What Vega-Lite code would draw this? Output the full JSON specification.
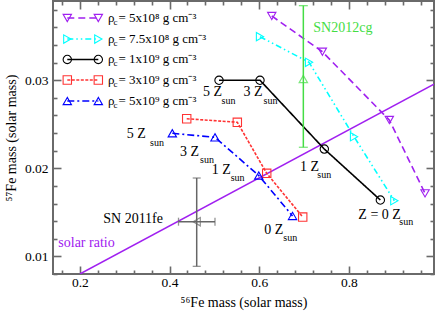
{
  "$schema": "https://vega.github.io/schema/vega-lite/v6.json",
  "width": 381,
  "height": 273,
  "autosize": "none",
  "padding": {"left": 53, "top": 1, "right": 2, "bottom": 37},
  "background": "white",
  "config": {
    "view": {"stroke": "#6a6a6a", "strokeWidth": 2},
    "font": "Liberation Serif"
  },
  "resolve": {"axis": {"x": "independent", "y": "independent"}},
  "layer": [
    {
      "data": {"values": [{"x": 0.2, "y": 0.008}, {"x": 0.99, "y": 0.02955}]},
      "mark": {"type": "line", "color": "#A020F0", "strokeWidth": 1.5, "clip": true},
      "encoding": {
        "x": {"field": "x", "type": "quantitative",
          "scale": {"domain": [0.14, 0.99], "nice": false, "zero": false},
          "axis": {"orient": "bottom", "title": "⁵⁶Fe mass (solar mass)",
            "values": [0.16,0.2,0.24,0.28,0.32,0.36,0.4,0.44,0.48,0.52,0.56,0.6,0.64,0.68,0.72,0.76,0.8,0.84,0.88,0.92,0.96],
            "labelExpr": "indexof([0.2,0.4,0.6,0.8], datum.value) >= 0 ? format(datum.value, '.1f') : ''",
            "tickSize": {"condition": {"test": "indexof([0.2,0.4,0.6,0.8], datum.value) >= 0", "value": -8}, "value": -4},
            "tickColor": "#6a6a6a", "tickWidth": 1.6, "domain": false, "grid": false,
            "labelOverlap": false, "labelFlush": false, "labelPadding": 9,
            "labelFontSize": 13.5, "labelColor": "#000000",
            "titleFontSize": 14, "titleFontWeight": "normal", "titleColor": "#000000", "titlePadding": 3}},
        "y": {"field": "y", "type": "quantitative",
          "scale": {"domain": [0.008, 0.039], "nice": false, "zero": false},
          "axis": {"orient": "left", "title": "⁵⁷Fe mass (solar mass)",
            "values": [0.008,0.01,0.012,0.014,0.016,0.018,0.02,0.022,0.024,0.026,0.028,0.03,0.032,0.034,0.036,0.038],
            "labelExpr": "indexof([0.01,0.02,0.03], datum.value) >= 0 ? format(datum.value, '.2f') : ''",
            "tickSize": {"condition": {"test": "indexof([0.01,0.02,0.03], datum.value) >= 0", "value": -8}, "value": -4},
            "tickColor": "#6a6a6a", "tickWidth": 1.6, "domain": false, "grid": false,
            "labelOverlap": false, "labelFlush": false, "labelPadding": 13,
            "labelFontSize": 13.5, "labelColor": "#000000",
            "titleFontSize": 14, "titleFontWeight": "normal", "titleColor": "#000000", "titlePadding": 6}}
      }
    },
    {
      "data": {"name": "series", "values": [
        {"s": "a", "g": "data", "x": 0.628, "y": 0.0373},
        {"s": "a", "g": "data", "x": 0.7409, "y": 0.03324},
        {"s": "a", "g": "data", "x": 0.8903, "y": 0.02549},
        {"s": "a", "g": "data", "x": 0.970, "y": 0.01716},
        {"s": "b", "g": "data", "x": 0.6018, "y": 0.03495},
        {"s": "b", "g": "data", "x": 0.7112, "y": 0.03204},
        {"s": "b", "g": "data", "x": 0.8116, "y": 0.02359},
        {"s": "b", "g": "data", "x": 0.9015, "y": 0.01632},
        {"s": "c", "g": "data", "x": 0.5104, "y": 0.0300},
        {"s": "c", "g": "data", "x": 0.6018, "y": 0.0300},
        {"s": "c", "g": "data", "x": 0.7453, "y": 0.02219},
        {"s": "c", "g": "data", "x": 0.8703, "y": 0.0164},
        {"s": "d", "g": "data", "x": 0.4383, "y": 0.02563},
        {"s": "d", "g": "data", "x": 0.5512, "y": 0.02523},
        {"s": "d", "g": "data", "x": 0.6168, "y": 0.01943},
        {"s": "d", "g": "data", "x": 0.6971, "y": 0.01447},
        {"s": "e", "g": "data", "x": 0.4062, "y": 0.02398},
        {"s": "e", "g": "data", "x": 0.5014, "y": 0.02352},
        {"s": "e", "g": "data", "x": 0.599, "y": 0.01918},
        {"s": "e", "g": "data", "x": 0.6744, "y": 0.01459},
        {"s": "a", "g": "leg", "x": 0.1719, "y": 0.03707},
        {"s": "a", "g": "leg", "x": 0.2411, "y": 0.03707},
        {"s": "b", "g": "leg", "x": 0.1719, "y": 0.03468},
        {"s": "b", "g": "leg", "x": 0.2411, "y": 0.03468},
        {"s": "c", "g": "leg", "x": 0.1719, "y": 0.03236},
        {"s": "c", "g": "leg", "x": 0.2411, "y": 0.03236},
        {"s": "d", "g": "leg", "x": 0.1719, "y": 0.03003},
        {"s": "d", "g": "leg", "x": 0.2411, "y": 0.03003},
        {"s": "e", "g": "leg", "x": 0.1719, "y": 0.02764},
        {"s": "e", "g": "leg", "x": 0.2411, "y": 0.02764}
      ]},
      "mark": {"type": "line"},
      "encoding": {
        "x": {"field": "x", "type": "quantitative",
          "axis": {"orient": "top", "title": null, "labels": false,
            "values": [0.16,0.2,0.24,0.28,0.32,0.36,0.4,0.44,0.48,0.52,0.56,0.6,0.64,0.68,0.72,0.76,0.8,0.84,0.88,0.92,0.96],
            "tickSize": {"condition": {"test": "indexof([0.2,0.4,0.6,0.8], datum.value) >= 0", "value": -8}, "value": -4},
            "tickColor": "#6a6a6a", "tickWidth": 1.6, "domain": false, "grid": false}},
        "y": {"field": "y", "type": "quantitative",
          "axis": {"orient": "right", "title": null, "labels": false,
            "values": [0.008,0.01,0.012,0.014,0.016,0.018,0.02,0.022,0.024,0.026,0.028,0.03,0.032,0.034,0.036,0.038],
            "tickSize": {"condition": {"test": "indexof([0.01,0.02,0.03], datum.value) >= 0", "value": -8}, "value": -4},
            "tickColor": "#6a6a6a", "tickWidth": 1.6, "domain": false, "grid": false}},
        "detail": {"field": "g"},
        "color": {"field": "s", "type": "nominal", "legend": null,
          "scale": {"domain": ["a","b","c","d","e"], "range": ["#A020F0","#00FFFF","#000000","#FF3333","#0000FF"]}},
        "strokeDash": {"field": "s", "type": "nominal", "legend": null,
          "scale": {"domain": ["a","b","c","d","e"], "range": [[7,4],[6,3,1.5,3,1.5,3],[1,0],[3,1.5],[7,3,2,3]]}},
        "strokeWidth": {"field": "s", "type": "nominal", "legend": null,
          "scale": {"domain": ["a","b","c","d","e"], "range": [1.6,1.6,1.3,1,1.6]}}
      }
    },
    {
      "data": {"name": "sn2012cg", "values": [{"x": 0.6985, "y": 0.03014, "ylo": 0.02239, "yhi": 0.03847}]},
      "layer": [
        {"mark": {"type": "rule", "color": "#44DD44", "strokeWidth": 1.5},
         "encoding": {"x": {"field": "x", "type": "quantitative", "axis": null}, "y": {"field": "ylo", "type": "quantitative", "axis": null}, "y2": {"field": "yhi"}}},
        {"mark": {"type": "tick", "orient": "horizontal", "color": "#44DD44", "size": 9, "thickness": 1.3},
         "encoding": {"x": {"field": "x", "type": "quantitative", "axis": null}, "y": {"field": "ylo", "type": "quantitative", "axis": null}}},
        {"mark": {"type": "tick", "orient": "horizontal", "color": "#44DD44", "size": 9, "thickness": 1.3},
         "encoding": {"x": {"field": "x", "type": "quantitative", "axis": null}, "y": {"field": "yhi", "type": "quantitative", "axis": null}}},
        {"mark": {"type": "point", "shape": "triangle-up", "filled": false, "color": "#44DD44", "size": 70, "strokeWidth": 1.2},
         "encoding": {"x": {"field": "x", "type": "quantitative", "axis": null}, "y": {"field": "y", "type": "quantitative", "axis": null}}}
      ]
    },
    {
      "data": {"name": "sn2011fe", "values": [{"x": 0.4606, "y": 0.01394, "xlo": 0.42, "xhi": 0.5014, "ylo": 0.00887, "yhi": 0.0189}]},
      "layer": [
        {"mark": {"type": "rule", "color": "#666666", "strokeWidth": 1.5},
         "encoding": {"x": {"field": "x", "type": "quantitative", "axis": null}, "y": {"field": "ylo", "type": "quantitative", "axis": null}, "y2": {"field": "yhi"}}},
        {"mark": {"type": "rule", "color": "#666666", "strokeWidth": 1.5},
         "encoding": {"x": {"field": "xlo", "type": "quantitative", "axis": null}, "x2": {"field": "xhi"}, "y": {"field": "y", "type": "quantitative", "axis": null}}},
        {"mark": {"type": "tick", "orient": "horizontal", "color": "#666666", "size": 8, "thickness": 1.3},
         "encoding": {"x": {"field": "x", "type": "quantitative", "axis": null}, "y": {"field": "ylo", "type": "quantitative", "axis": null}}},
        {"mark": {"type": "tick", "orient": "horizontal", "color": "#666666", "size": 8, "thickness": 1.3},
         "encoding": {"x": {"field": "x", "type": "quantitative", "axis": null}, "y": {"field": "yhi", "type": "quantitative", "axis": null}}},
        {"mark": {"type": "tick", "orient": "vertical", "color": "#666666", "size": 8, "thickness": 1.3},
         "encoding": {"x": {"field": "xlo", "type": "quantitative", "axis": null}, "y": {"field": "y", "type": "quantitative", "axis": null}}},
        {"mark": {"type": "tick", "orient": "vertical", "color": "#666666", "size": 8, "thickness": 1.3},
         "encoding": {"x": {"field": "xhi", "type": "quantitative", "axis": null}, "y": {"field": "y", "type": "quantitative", "axis": null}}},
        {"mark": {"type": "point", "shape": "triangle-left", "filled": false, "color": "#666666", "size": 70, "strokeWidth": 1.2},
         "encoding": {"x": {"field": "x", "type": "quantitative", "axis": null}, "y": {"field": "y", "type": "quantitative", "axis": null}}}
      ]
    },
    {
      "data": {"name": "series"},
      "mark": {"type": "point", "filled": false, "size": 70, "strokeWidth": 1.1, "opacity": 1},
      "encoding": {
        "x": {"field": "x", "type": "quantitative", "axis": null},
        "y": {"field": "y", "type": "quantitative", "axis": null},
        "color": {"field": "s", "type": "nominal", "legend": null},
        "shape": {"field": "s", "type": "nominal", "legend": null,
          "scale": {"domain": ["a","b","c","d","e"], "range": ["triangle-down","triangle-right","circle","square","triangle-up"]}}
      }
    },
    {
      "data": {"values": [
        {"x": 0.4747, "y": 0.02867, "t": "5 Z"},
        {"x": 0.565, "y": 0.02867, "t": "3 Z"},
        {"x": 0.3044, "y": 0.0239, "t": "5 Z"},
        {"x": 0.4233, "y": 0.02191, "t": "3 Z"},
        {"x": 0.4941, "y": 0.01981, "t": "1 Z"},
        {"x": 0.6911, "y": 0.0202, "t": "1 Z"},
        {"x": 0.6114, "y": 0.013, "t": "0 Z"},
        {"x": 0.8212, "y": 0.0147, "t": "Z = 0 Z"}
      ]},
      "mark": {"type": "text", "align": "left", "baseline": "middle", "fontSize": 14, "color": "#000000"},
      "encoding": {
        "x": {"field": "x", "type": "quantitative", "axis": null},
        "y": {"field": "y", "type": "quantitative", "axis": null},
        "text": {"field": "t"}
      }
    },
    {
      "data": {"values": [
        {"x": 0.516, "y": 0.02764, "t": "sun"},
        {"x": 0.6097, "y": 0.02764, "t": "sun"},
        {"x": 0.3564, "y": 0.02293, "t": "sun"},
        {"x": 0.468, "y": 0.02094, "t": "sun"},
        {"x": 0.5365, "y": 0.0189, "t": "sun"},
        {"x": 0.7297, "y": 0.01924, "t": "sun"},
        {"x": 0.6538, "y": 0.01209, "t": "sun"},
        {"x": 0.9127, "y": 0.01385, "t": "sun"}
      ]},
      "mark": {"type": "text", "align": "left", "baseline": "middle", "fontSize": 10, "color": "#000000"},
      "encoding": {
        "x": {"field": "x", "type": "quantitative", "axis": null},
        "y": {"field": "y", "type": "quantitative", "axis": null},
        "text": {"field": "t"}
      }
    },
    {
      "data": {"values": [{"x": 0.3854, "y": 0.01419, "t": "SN 2011fe"}]},
      "mark": {"type": "text", "align": "right", "baseline": "middle", "fontSize": 14, "color": "#000000"},
      "encoding": {"x": {"field": "x", "type": "quantitative", "axis": null}, "y": {"field": "y", "type": "quantitative", "axis": null}, "text": {"field": "t"}}
    },
    {
      "data": {"values": [{"x": 0.1518, "y": 0.01152, "t": "solar ratio"}]},
      "mark": {"type": "text", "align": "left", "baseline": "middle", "fontSize": 14, "color": "#A020F0"},
      "encoding": {"x": {"field": "x", "type": "quantitative", "axis": null}, "y": {"field": "y", "type": "quantitative", "axis": null}, "text": {"field": "t"}}
    },
    {
      "data": {"values": [{"x": 0.7208, "y": 0.03593, "t": "SN2012cg"}]},
      "mark": {"type": "text", "align": "left", "baseline": "middle", "fontSize": 14, "color": "#44DD44"},
      "encoding": {"x": {"field": "x", "type": "quantitative", "axis": null}, "y": {"field": "y", "type": "quantitative", "axis": null}, "text": {"field": "t"}}
    },
    {
      "data": {"name": "legtext", "values": [
        {"y": 0.03707, "t": "= 5x10⁸ g cm⁻³"},
        {"y": 0.03468, "t": "= 7.5x10⁸ g cm⁻³"},
        {"y": 0.03236, "t": "= 1x10⁹ g cm⁻³"},
        {"y": 0.03003, "t": "= 3x10⁹ g cm⁻³"},
        {"y": 0.02764, "t": "= 5x10⁹ g cm⁻³"}
      ]},
      "layer": [
        {"mark": {"type": "text", "align": "left", "baseline": "middle", "fontSize": 13, "color": "#000000"},
         "encoding": {"x": {"datum": 0.2627, "type": "quantitative", "axis": null}, "y": {"field": "y", "type": "quantitative", "axis": null}, "text": {"value": "ρ"}}},
        {"mark": {"type": "text", "align": "left", "baseline": "middle", "fontSize": 9, "dy": 4, "color": "#000000"},
         "encoding": {"x": {"datum": 0.275, "type": "quantitative", "axis": null}, "y": {"field": "y", "type": "quantitative", "axis": null}, "text": {"value": "c"}}},
        {"mark": {"type": "text", "align": "left", "baseline": "middle", "fontSize": 13, "color": "#000000"},
         "encoding": {"x": {"datum": 0.2861, "type": "quantitative", "axis": null}, "y": {"field": "y", "type": "quantitative", "axis": null}, "text": {"field": "t"}}}
      ]
    }
  ]
}
